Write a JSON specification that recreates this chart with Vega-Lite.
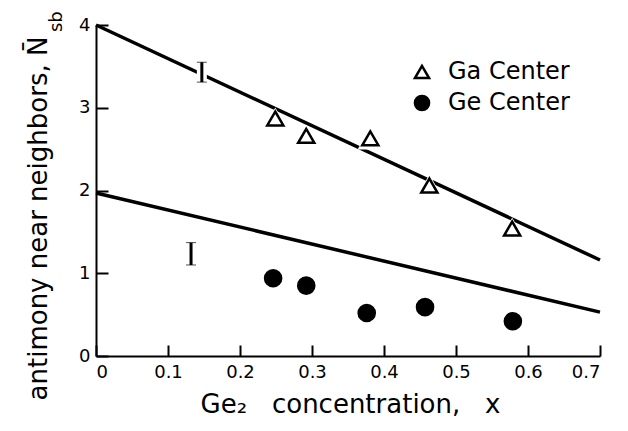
{
  "$schema": "https://vega.github.io/schema/vega-lite/v6.json",
  "width": 504,
  "height": 331,
  "autosize": {"type": "none"},
  "padding": {"left": 96, "top": 25, "right": 28, "bottom": 75},
  "background": "white",
  "config": {
    "view": {"stroke": null},
    "font": "DejaVu Sans",
    "axis": {
      "grid": false,
      "domainColor": "black",
      "domainWidth": 2,
      "tickColor": "black",
      "tickWidth": 2,
      "labelColor": "black",
      "titleColor": "black",
      "labelFont": "DejaVu Sans",
      "titleFont": "DejaVu Sans",
      "labelFontSize": 18,
      "titleFontWeight": "normal"
    },
    "legend": {
      "title": null,
      "orient": "none",
      "legendX": 314,
      "legendY": 35,
      "padding": 0,
      "labelFontSize": 24,
      "labelFont": "DejaVu Sans",
      "labelColor": "black",
      "labelOffset": 14,
      "symbolSize": 200,
      "symbolStrokeWidth": 2.5,
      "rowPadding": 6
    }
  },
  "datasets": {
    "pts": [
      {"series": "Ga Center", "x": 0.249, "y": 2.87},
      {"series": "Ga Center", "x": 0.292, "y": 2.66},
      {"series": "Ga Center", "x": 0.381, "y": 2.63},
      {"series": "Ga Center", "x": 0.463, "y": 2.06},
      {"series": "Ga Center", "x": 0.578, "y": 1.54},
      {"series": "Ge Center", "x": 0.246, "y": 0.94},
      {"series": "Ge Center", "x": 0.292, "y": 0.85},
      {"series": "Ge Center", "x": 0.376, "y": 0.52},
      {"series": "Ge Center", "x": 0.457, "y": 0.59},
      {"series": "Ge Center", "x": 0.579, "y": 0.42}
    ],
    "lines": [
      {"line": "upper", "x": 0.0, "y": 4.0},
      {"line": "upper", "x": 0.7, "y": 1.16},
      {"line": "lower", "x": 0.0, "y": 1.97},
      {"line": "lower", "x": 0.7, "y": 0.53}
    ],
    "errs": [
      {"x": 0.147, "lo": 3.31, "hi": 3.55},
      {"x": 0.132, "lo": 1.10, "hi": 1.37}
    ],
    "sub": [
      {"x": -0.047, "y": 3.915, "t": "sb"}
    ]
  },
  "layer": [
    {
      "data": {"name": "lines"},
      "mark": {"type": "line", "color": "black", "strokeWidth": 3.5},
      "encoding": {
        "x": {
          "field": "x", "type": "quantitative",
          "title": "Ge₂\u00a0\u00a0\u00a0concentration,\u00a0\u00a0\u00a0x",
          "scale": {"domain": [0, 0.7], "nice": false, "zero": false},
          "axis": {
            "values": [0, 0.1, 0.2, 0.3, 0.4, 0.5, 0.6, 0.7],
            "labelExpr": "datum.value == 0 ? '0' : format(datum.value, '.1f')",
            "tickSize": -11,
            "labelPadding": 18,
            "titleFontSize": 26,
            "titleX": 254,
            "titleY": 56,
            "titleBaseline": "alphabetic",
            "titleAlign": "center"
          }
        },
        "y": {
          "field": "y", "type": "quantitative",
          "title": "antimony near neighbors, N̄",
          "scale": {"domain": [0, 4], "nice": false, "zero": false},
          "axis": {
            "values": [0, 1, 2, 3, 4],
            "format": "d",
            "tickSize": -12,
            "labelPadding": 18,
            "titleFontSize": 26,
            "titleAngle": 270,
            "titleX": -50,
            "titleY": 193,
            "titleAlign": "center",
            "titleBaseline": "alphabetic"
          }
        },
        "detail": {"field": "line"}
      }
    },
    {
      "data": {"name": "errs"},
      "mark": {"type": "errorbar", "ticks": {"color": "white", "strokeWidth": 6, "size": 16}, "rule": {"color": "white", "strokeWidth": 10}},
      "encoding": {
        "x": {"field": "x", "type": "quantitative", "title": "Ge₂\u00a0\u00a0\u00a0concentration,\u00a0\u00a0\u00a0x"},
        "y": {"field": "lo", "type": "quantitative", "title": "antimony near neighbors, N̄"},
        "y2": {"field": "hi"}
      }
    },
    {
      "data": {"name": "pts"},
      "transform": [{"filter": "datum.series == 'Ga Center'"}],
      "mark": {"type": "point", "shape": "triangle-up", "filled": true, "color": "white", "size": 650, "opacity": 1},
      "encoding": {
        "x": {"field": "x", "type": "quantitative", "title": "Ge₂\u00a0\u00a0\u00a0concentration,\u00a0\u00a0\u00a0x"},
        "y": {"field": "y", "type": "quantitative", "title": "antimony near neighbors, N̄"}
      }
    },
    {
      "data": {"name": "errs"},
      "mark": {"type": "errorbar", "ticks": {"color": "black", "strokeWidth": 2.5, "size": 10}, "rule": {"color": "black", "strokeWidth": 3}},
      "encoding": {
        "x": {"field": "x", "type": "quantitative", "title": "Ge₂\u00a0\u00a0\u00a0concentration,\u00a0\u00a0\u00a0x"},
        "y": {"field": "lo", "type": "quantitative", "title": "antimony near neighbors, N̄"},
        "y2": {"field": "hi"}
      }
    },
    {
      "data": {"name": "pts"},
      "mark": {"type": "point", "strokeWidth": 2.5, "size": 260, "opacity": 1, "fillOpacity": 1, "strokeOpacity": 1},
      "encoding": {
        "x": {"field": "x", "type": "quantitative", "title": "Ge₂\u00a0\u00a0\u00a0concentration,\u00a0\u00a0\u00a0x"},
        "y": {"field": "y", "type": "quantitative", "title": "antimony near neighbors, N̄"},
        "shape": {
          "field": "series", "type": "nominal",
          "scale": {"domain": ["Ga Center", "Ge Center"], "range": ["triangle-up", "circle"]}
        },
        "fill": {
          "field": "series", "type": "nominal",
          "scale": {"domain": ["Ga Center", "Ge Center"], "range": ["white", "black"]}
        },
        "stroke": {
          "field": "series", "type": "nominal",
          "scale": {"domain": ["Ga Center", "Ge Center"], "range": ["black", "black"]}
        }
      }
    },
    {
      "data": {"name": "sub"},
      "mark": {"type": "text", "angle": 270, "align": "left", "baseline": "alphabetic", "fontSize": 18, "font": "DejaVu Sans", "color": "black"},
      "encoding": {
        "x": {"field": "x", "type": "quantitative", "title": "Ge₂\u00a0\u00a0\u00a0concentration,\u00a0\u00a0\u00a0x"},
        "y": {"field": "y", "type": "quantitative", "title": "antimony near neighbors, N̄"},
        "text": {"field": "t"}
      }
    }
  ]
}
